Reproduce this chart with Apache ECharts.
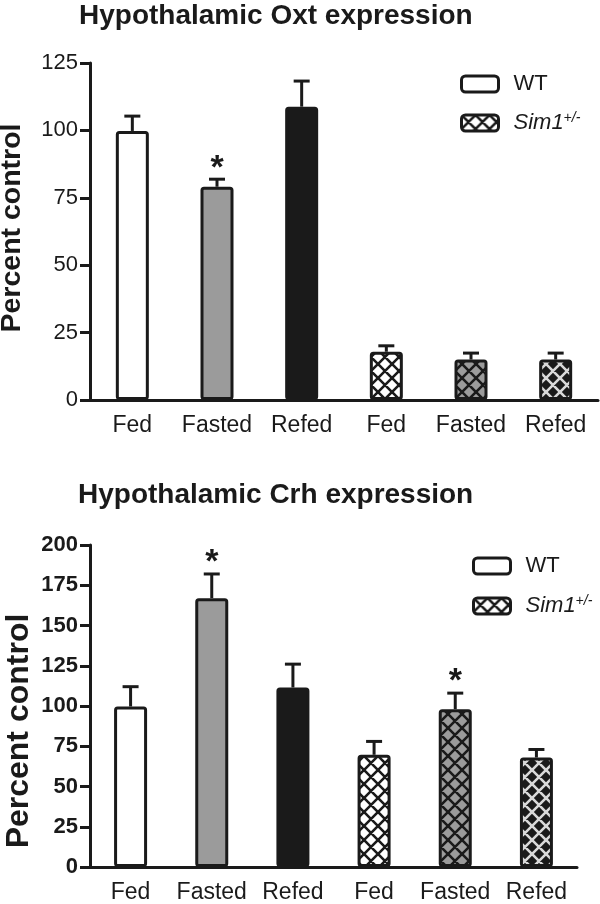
<!DOCTYPE html>
<html><head><meta charset="utf-8">
<script src="https://cdn.jsdelivr.net/npm/echarts@6/dist/echarts.min.js"></script>
<style>html,body{margin:0;padding:0;background:#fff}#c{width:600px;height:904px}</style>
</head><body><div id="c"></div>
<script>
// ---- data ----
const categories = ['Fed', 'Fasted', 'Refed', 'Fed', 'Fasted', 'Refed'];
const oxtWT = [99.8, 79.1, 108.8];
const oxtWTErr = [105.3, 81.9, 118.3];
const oxtSim = [17.9, 15.0, 15.0];
const oxtSimErr = [20.1, 17.4, 17.4];
const oxtSig = [0, 1, 0, 0, 0, 0];
const crhWT = [99.7, 167, 111.5];
const crhWTErr = [112, 182, 126];
const crhSim = [69.7, 98, 68];
const crhSimErr = [78, 108, 73];
const crhSig = [0, 1, 0, 0, 1, 0];
const oxtTicks = [0, 125, 25];
const crhTicks = [0, 200, 25];
const yName = 'Percent control';

const FONT = "'Liberation Sans', Arial, sans-serif";
const INK = '#1a1a1a';
const fills = ['#ffffff', '#9b9b9b', '#1a1a1a'];
const hatchFg = ['#1a1a1a', '#1a1a1a', '#d9d9d9'];

function hatch(bg, fg) {
  const T = 14, c = document.createElement('canvas');
  c.width = T; c.height = T;
  const g = c.getContext('2d');
  g.fillStyle = bg; g.fillRect(0, 0, T, T);
  g.strokeStyle = fg; g.lineWidth = 2.6;
  g.beginPath();
  for (const o of [-T, 0, T]) {
    g.moveTo(o, 0); g.lineTo(o + T, T);
    g.moveTo(o + T, 0); g.lineTo(o, T);
  }
  g.stroke();
  return { image: c, repeat: 'repeat' };
}
const patterns = fills.map((f, i) => hatch(f, hatchFg[i]));

function barData(vals, isSim) {
  const out = [];
  for (let i = 0; i < 6; i++) {
    const own = isSim ? i - 3 : i;
    if (own >= 0 && own < 3) {
      out.push({ value: vals[own], itemStyle: { color: isSim ? patterns[own] : fills[own] } });
    } else out.push('-');
  }
  return out;
}
function errData(wt, wtE, sim, simE, sig) {
  const out = [];
  for (let i = 0; i < 3; i++) out.push([i, wt[i], wtE[i], sig[i]]);
  for (let i = 0; i < 3; i++) out.push([i + 3, sim[i], simE[i], sig[i + 3]]);
  return out;
}
function renderErr(params, api) {
  const x = api.value(0), v = api.value(1), e = api.value(2), s = api.value(3);
  const p0 = api.coord([x, v]), p1 = api.coord([x, e]);
  const st = { stroke: INK, lineWidth: 3 };
  const ch = [
    { type: 'line', shape: { x1: p0[0], y1: p0[1], x2: p1[0], y2: p1[1] }, style: st },
    { type: 'line', shape: { x1: p1[0] - 8, y1: p1[1], x2: p1[0] + 8, y2: p1[1] }, style: st }
  ];
  if (s) ch.push({ type: 'text', style: { text: '*', x: p1[0], y: p1[1] - 11, textAlign: 'center', textVerticalAlign: 'middle', font: 'bold 34px ' + FONT, fill: INK } });
  return { type: 'group', children: ch };
}

function xAxis(gi) {
  return {
    type: 'category', gridIndex: gi, data: categories,
    axisLine: { lineStyle: { color: INK, width: 3 } },
    axisTick: { alignWithLabel: true, length: 10, lineStyle: { color: INK, width: 3 } },
    axisLabel: { color: INK, fontSize: 23, fontFamily: FONT, margin: 14, interval: 0 }
  };
}
function yAxis(gi, t, bold) {
  return {
    type: 'value', gridIndex: gi, min: t[0], max: t[1], interval: t[2],
    axisLine: { show: true, lineStyle: { color: INK, width: 3 } },
    axisTick: { show: true, length: 10, lineStyle: { color: INK, width: 3 } },
    axisLabel: { color: INK, fontSize: 22, fontFamily: FONT, fontWeight: bold ? 'bold' : 'normal', margin: 12 },
    splitLine: { show: false }
  };
}
function legend(left, top, gap) {
  return {
    left: left, top: top, orient: 'vertical', itemWidth: 37, itemHeight: 16, itemGap: gap,
    data: [
      { name: 'WT', itemStyle: { color: '#fff', borderColor: INK, borderWidth: 3 } },
      { name: 'Sim', itemStyle: { color: patterns[0], borderColor: INK, borderWidth: 3 } }
    ],
    formatter: n => n === 'Sim' ? '{i|Sim1}{s|+/-}' : n,
    textStyle: {
      color: INK, fontSize: 22, fontFamily: FONT, padding: [0, 0, 0, 10],
      rich: {
        i: { fontSize: 22, fontStyle: 'italic', fontFamily: FONT, color: INK },
        s: { fontSize: 14, fontStyle: 'italic', fontFamily: FONT, color: INK, verticalAlign: 'top', padding: [0, 0, 10, 0] }
      }
    },
    selectedMode: false
  };
}
const barCommon = { type: 'bar', barWidth: 33, barGap: '-100%', itemStyle: { borderColor: INK, borderWidth: 3, borderRadius: 2 }, silent: true, animation: false };

const chart = echarts.init(document.getElementById('c'), null, { renderer: 'canvas' });
chart.setOption({
  animation: false,
  title: [
    { text: 'Hypothalamic Oxt expression', left: 74, top: -3, textStyle: { fontSize: 28, fontWeight: 'bold', fontFamily: FONT, color: INK } },
    { text: 'Hypothalamic Crh expression', left: 73, top: 476, textStyle: { fontSize: 28, fontWeight: 'bold', fontFamily: FONT, color: INK } }
  ],
  graphic: [
    { type: 'text', x: 12, y: 228, rotation: Math.PI / 2, style: { text: yName, font: 'bold 28.5px ' + FONT, fill: INK, textAlign: 'center', textVerticalAlign: 'middle' } },
    { type: 'text', x: 19, y: 731, rotation: Math.PI / 2, style: { text: yName, font: 'bold 32px ' + FONT, fill: INK, textAlign: 'center', textVerticalAlign: 'middle' } }
  ],
  legend: [legend(455, 68, 16), legend(467, 550, 17)],
  grid: [
    { left: 90, right: 2, top: 63, height: 337 },
    { left: 90, right: 23, top: 545, height: 325 }
  ],
  xAxis: [xAxis(0), xAxis(1)],
  yAxis: [yAxis(0, oxtTicks, false), yAxis(1, crhTicks, true)],
  series: [
    Object.assign({}, barCommon, { name: 'WT', xAxisIndex: 0, yAxisIndex: 0, data: barData(oxtWT, false), itemStyle: Object.assign({}, barCommon.itemStyle, { color: '#fff' }) }),
    Object.assign({}, barCommon, { name: 'Sim', xAxisIndex: 0, yAxisIndex: 0, data: barData(oxtSim, true), itemStyle: Object.assign({}, barCommon.itemStyle, { color: patterns[0] }) }),
    Object.assign({}, barCommon, { name: 'WT', xAxisIndex: 1, yAxisIndex: 1, data: barData(crhWT, false), itemStyle: Object.assign({}, barCommon.itemStyle, { color: '#fff' }) }),
    Object.assign({}, barCommon, { name: 'Sim', xAxisIndex: 1, yAxisIndex: 1, data: barData(crhSim, true), itemStyle: Object.assign({}, barCommon.itemStyle, { color: patterns[0] }) }),
    { type: 'custom', xAxisIndex: 0, yAxisIndex: 0, renderItem: renderErr, data: errData(oxtWT, oxtWTErr, oxtSim, oxtSimErr, oxtSig), silent: true, z: 1 },
    { type: 'custom', xAxisIndex: 1, yAxisIndex: 1, renderItem: renderErr, data: errData(crhWT, crhWTErr, crhSim, crhSimErr, crhSig), silent: true, z: 1 }
  ]
});
</script></body></html>
